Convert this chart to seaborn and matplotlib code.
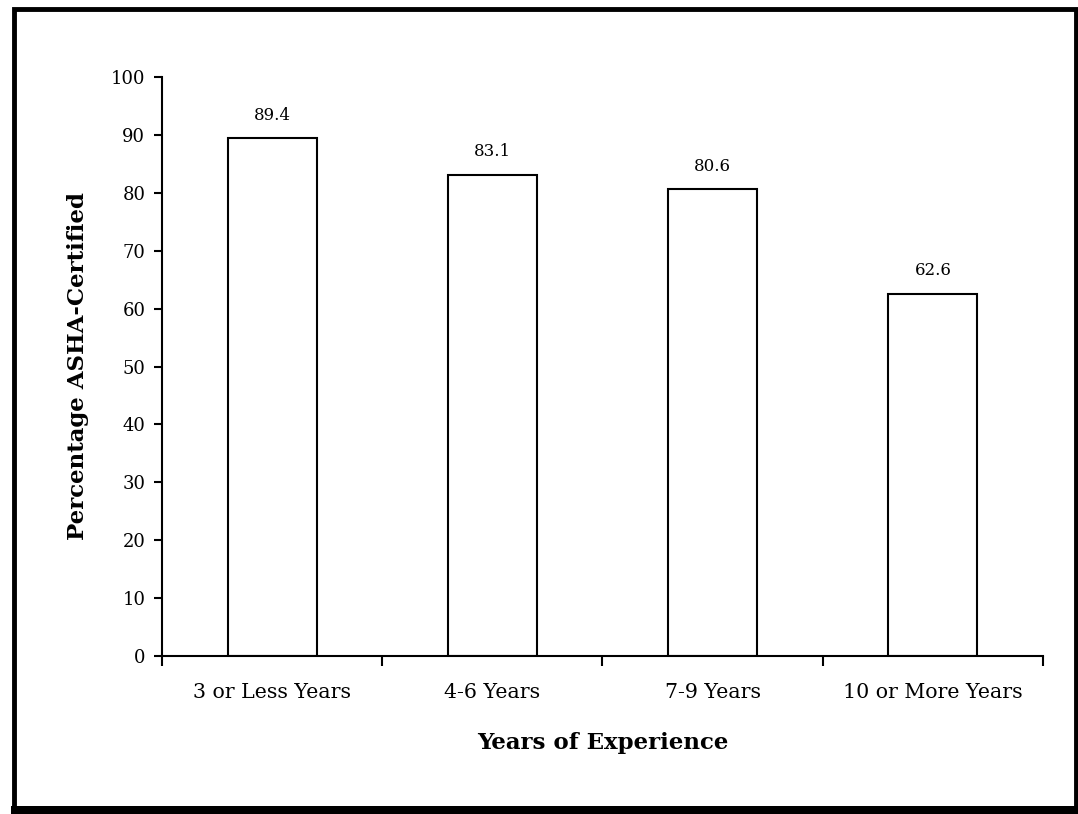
import matplotlib
matplotlib.use("Agg")
import matplotlib.pyplot as plt
import seaborn as sns
import pandas as pd
from matplotlib.patches import Rectangle
from matplotlib.ticker import FixedLocator, NullFormatter

categories = ["3 or Less Years", "4-6 Years", "7-9 Years", "10 or More Years"]
values = [89.4, 83.1, 80.6, 62.6]
value_labels = ["89.4", "83.1", "80.6", "62.6"]
yticks = [0, 10, 20, 30, 40, 50, 60, 70, 80, 90, 100]

sns.set_theme(style="white")
plt.rcParams["font.family"] = ["DejaVu Serif"]
plt.rcParams["text.color"] = "black"
plt.rcParams["axes.labelcolor"] = "black"
plt.rcParams["xtick.color"] = "black"
plt.rcParams["ytick.color"] = "black"

df = pd.DataFrame({"cat": categories, "val": values})

fig = plt.figure(figsize=(10.78, 8.14), dpi=100)
ax = fig.add_axes([0.1503, 0.1941, 0.8172, 0.7113])

sns.barplot(data=df, x="cat", y="val", ax=ax, color="white", edgecolor="black",
            linewidth=1.5, width=0.405, saturation=1)
for p in ax.patches:
    p.set_facecolor("white")

for i, (v, lab) in enumerate(zip(values, value_labels)):
    ax.text(i, v + 2.5, lab, ha="center", va="bottom", fontsize=12)

ax.set_xlim(-0.5, 3.5)
ax.set_ylim(0, 100)
ax.set_yticks(yticks)
ax.set_yticklabels([str(t) for t in yticks], fontsize=13)

ax.xaxis.set_major_locator(FixedLocator([-0.5, 0.5, 1.5, 2.5, 3.5]))
ax.xaxis.set_major_formatter(NullFormatter())
ax.xaxis.set_minor_locator(FixedLocator(list(range(len(categories)))))
ax.set_xticklabels(categories, minor=True, fontsize=14.8)
ax.tick_params(axis="x", which="major", direction="out", length=7, width=1.5, color="black", bottom=True)
ax.tick_params(axis="x", which="minor", length=0, pad=19.5, bottom=True)
ax.tick_params(axis="y", direction="out", length=6, width=1.5, color="black", left=True, pad=6)

for s in ["top", "right"]:
    ax.spines[s].set_visible(False)
for s in ["left", "bottom"]:
    ax.spines[s].set_color("black")
    ax.spines[s].set_linewidth(1.5)

ax.set_xlabel("Years of Experience", fontsize=16.5, fontweight="bold")
ax.set_ylabel("Percentage ASHA-Certified", fontsize=16.5, fontweight="bold")
ax.xaxis.set_label_coords(0.5, -0.131)
ax.yaxis.set_label_coords(-0.083, 0.5)

W, H = 1078, 814
border = Rectangle((13.5 / W, 6 / H), (1076 - 13.5) / W, (805 - 6) / H,
                   transform=fig.transFigure, fill=False, edgecolor="black",
                   linewidth=3.5)
fig.patches.append(border)
fig.patches.append(Rectangle((11 / W, 0), (1078 - 11) / W, 8 / H, transform=fig.transFigure,
                             facecolor="black", edgecolor="none"))

fig.savefig("out.png", dpi=100)
